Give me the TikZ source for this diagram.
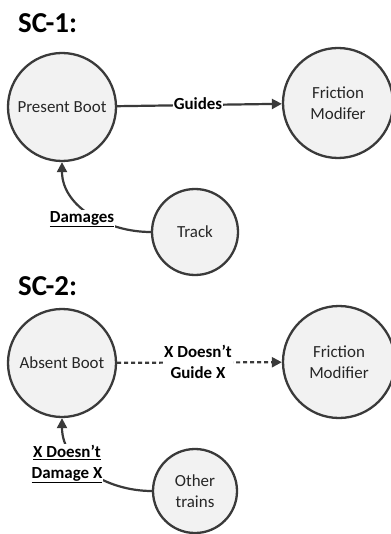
\documentclass[tikz,border=0pt]{standalone}
\usepackage{fontspec}
\setmainfont{Carlito}
\usetikzlibrary{arrows.meta}
\definecolor{circfill}{HTML}{F2F2F2}
\definecolor{ink}{HTML}{3A3A3A}
\begin{document}
\begin{tikzpicture}[x=1bp,y=-1bp,
  ent/.style={circle, draw=ink, line width=2.3bp, fill=circfill, inner sep=0pt, align=center,
    font=\fontsize{17}{21}\selectfont, text=black!85},
  rel/.style={draw=ink, line width=2.2bp, -{Triangle[length=10bp,width=10bp]}},
  lbl/.style={fill=white, inner sep=1bp, align=center, text=black,
    font=\bfseries\fontsize{17}{21}\selectfont},
  ttl/.style={anchor=base west, inner sep=0pt, text=black, font=\bfseries\fontsize{29}{31}\selectfont}]
\fill[white] (0,0) rectangle (390,534);
\useasboundingbox (0,0) rectangle (390,534);

% SC-1
\node[ttl] (t1) at (18,33) {SC-1:};
\node[ent, minimum size=108bp] (pb) at (62,107) {Present Boot};
\node[ent, minimum size=110bp] (fm) at (338,103) {Friction\\Modifer};
\node[ent, minimum size=86bp] (tr) at (195,232) {Track};
\draw[rel] (pb) -- (fm);
\node[lbl] (g) at (198,104) {Guides};
\draw[rel] (tr.west) to[out=180,in=-90] (pb.south);
\node[lbl, fill=white] (d) at (82,219) {\underline{Damages}};

% SC-2
\node[ttl] (t2) at (18,295) {SC-2:};
\node[ent, minimum size=108bp] (ab) at (62,363) {Absent Boot};
\node[ent, minimum size=112bp] (fm2) at (339,362) {Friction\\Modifier};
\node[ent, minimum size=84bp] (ot) at (195,491) {Other\\trains};
\draw[rel, dash pattern=on 4bp off 3bp] (ab) -- (fm2);
\node[lbl] (ng) at (198,362) {X Doesn’t\\Guide X};
\draw[rel] (ot.west) to[out=180,in=-90] (ab.south);
\node[lbl] (nd) at (67,464) {\underline{X Doesn’t}\\\underline{Damage X}};
\end{tikzpicture}
\end{document}
